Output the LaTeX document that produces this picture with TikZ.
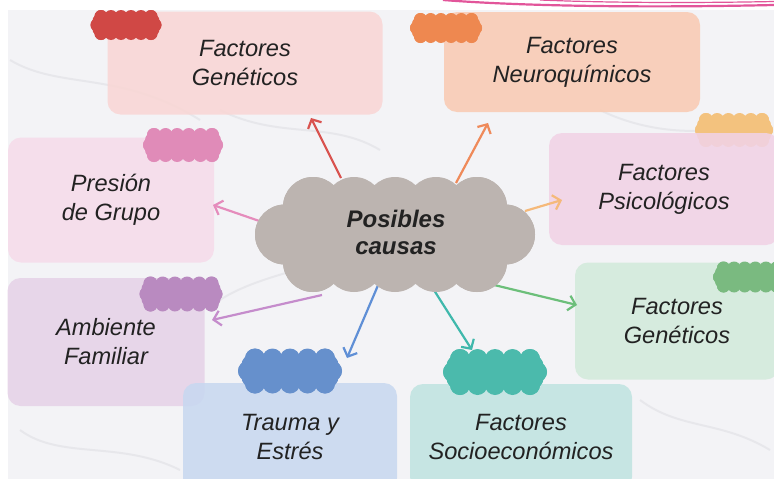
\documentclass[tikz,border=0pt]{standalone}
\usepackage{fontspec}
\setmainfont{Liberation Sans}
\usetikzlibrary{arrows.meta,calc}
\definecolor{bgmarble}{HTML}{F3F3F6}
\definecolor{streak}{HTML}{D9D9DF}
\definecolor{txt}{HTML}{222222}
\definecolor{bxA}{HTML}{F9D6D5}
\definecolor{bxB}{HTML}{F9CBB3}
\definecolor{bxC}{HTML}{F6DCEA}
\definecolor{bxD}{HTML}{F1D3E6}
\definecolor{bxE}{HTML}{E6D2E8}
\definecolor{bxF}{HTML}{D3EADB}
\definecolor{bxG}{HTML}{C8D8F0}
\definecolor{bxH}{HTML}{C0E4E1}
\definecolor{clA}{HTML}{D04845}
\definecolor{clB}{HTML}{EE8850}
\definecolor{clC}{HTML}{E08BB8}
\definecolor{clD}{HTML}{F3C27E}
\definecolor{clE}{HTML}{B98AC0}
\definecolor{clF}{HTML}{7ABA80}
\definecolor{clG}{HTML}{6690CC}
\definecolor{clH}{HTML}{4BBAAC}
\definecolor{arA}{HTML}{D9534F}
\definecolor{arB}{HTML}{EF8A5A}
\definecolor{arC}{HTML}{E58CBC}
\definecolor{arD}{HTML}{F5B97A}
\definecolor{arE}{HTML}{C58CCC}
\definecolor{arF}{HTML}{6CBF7A}
\definecolor{arG}{HTML}{5F8FD6}
\definecolor{arH}{HTML}{3FB8AC}
\definecolor{centre}{HTML}{BCB4B0}
\definecolor{pinkline}{HTML}{E2559A}
% scalloped blob: cx, cy, width, height, bump radius, top inset, top bumps, side steps, colour
\newcommand{\cloudblob}[9]{%
  \pgfmathsetmacro\bxa{#1-#3/2+#5+#6}\pgfmathsetmacro\bxb{#1+#3/2-#5-#6}%
  \pgfmathsetmacro\bxl{#1-#3/2+#5}\pgfmathsetmacro\bxr{#1+#3/2-#5}%
  \pgfmathsetmacro\bya{#2-#4/2+#5}\pgfmathsetmacro\byb{#2+#4/2-#5}%
  \pgfmathtruncatemacro\bnt{#7-1}%
  \fill[#9] (\bxa,\bya) -- (\bxb,\bya) -- (\bxr,#2) -- (\bxb,\byb) -- (\bxa,\byb) -- (\bxl,#2) -- cycle;
  \foreach \i in {0,...,\bnt}{%
    \fill[#9] ({\bxa+\i*(\bxb-\bxa)/\bnt},\bya) circle (#5);
    \fill[#9] ({\bxa+\i*(\bxb-\bxa)/\bnt},\byb) circle (#5);}
  \foreach \k in {0,...,#8}{%
    \fill[#9] ({\bxa+\k/#8*(\bxl-\bxa)},{\bya+\k/#8*(#2-\bya)}) circle (#5);
    \fill[#9] ({\bxa+\k/#8*(\bxl-\bxa)},{\byb+\k/#8*(#2-\byb)}) circle (#5);
    \fill[#9] ({\bxb+\k/#8*(\bxr-\bxb)},{\bya+\k/#8*(#2-\bya)}) circle (#5);
    \fill[#9] ({\bxb+\k/#8*(\bxr-\bxb)},{\byb+\k/#8*(#2-\byb)}) circle (#5);}
}
\begin{document}
\begin{tikzpicture}[x=1pt,y=-1pt,
  infobox/.style={rounded corners=13pt, fill=#1, fill opacity=0.88, text opacity=1,
    text=txt, align=center, inner sep=0pt,
    font=\itshape\fontsize{23.6}{29}\selectfont},
  arr/.style={draw=#1, line width=2.2pt, -{Straight Barb[length=7pt,width=15pt,line width=2.2pt]}},
  streakline/.style={draw=streak, line width=2pt, opacity=0.45}]
\useasboundingbox (0,0) rectangle (774,479);
\clip (0,0) rectangle (774,479);
% background
\fill[white] (0,0) rectangle (774,479);
\fill[bgmarble] (8,10) rectangle (774,479);
\draw[streakline] (10,60) .. controls (60,90) and (120,70) .. (200,120);
\draw[streakline] (220,110) .. controls (280,140) and (330,120) .. (380,150);
\draw[streakline] (600,110) .. controls (640,130) and (700,140) .. (760,120);
\draw[streakline] (20,430) .. controls (60,460) and (120,440) .. (180,470);
\draw[streakline] (640,400) .. controls (680,430) and (720,420) .. (770,450);
\draw[streakline] (220,300) .. controls (250,280) and (300,270) .. (330,260);
% top pink border lines
\draw[pinkline, line width=2.2pt] (443,0) .. controls (520,6) and (640,8) .. (774,5);
\draw[pinkline, line width=1.2pt] (540,0) .. controls (610,3) and (700,3) .. (774,1.5);
% cloud under psychological box
\cloudblob{734}{130}{78}{34}{7}{4}{6}{2}{clD}
% boxes
\node[infobox=bxA, minimum width=275pt, minimum height=103pt] (bA) at (245,63) {Factores\\Genéticos};
\node[infobox=bxB, minimum width=256pt, minimum height=100pt] (bB) at (572,62) {Factores\\Neuroquímicos};
\node[infobox=bxC, minimum width=206pt, minimum height=125pt] (bC) at (111,200) {Presión\\de Grupo};
\node[infobox=bxD, minimum width=230pt, minimum height=112pt] (bD) at (664,189) {Factores\\Psicológicos};
\node[infobox=bxE, minimum width=197pt, minimum height=128pt] (bE) at (106,342) {Ambiente\\Familiar};
\node[infobox=bxF, minimum width=204pt, minimum height=117pt] (bF) at (677,321) {Factores\\Genéticos};
\node[infobox=bxG, minimum width=214pt, minimum height=108pt] (bG) at (290,437) {Trauma y\\Estrés};
\node[infobox=bxH, minimum width=222pt, minimum height=106pt] (bH) at (521,437) {Factores\\Socioeconómicos};
% small clouds
\cloudblob{126}{25}{71}{30}{6.5}{4}{6}{2}{clA}
\cloudblob{446}{28}{72}{30}{6.5}{4}{6}{2}{clB}
\cloudblob{183}{145}{80}{34}{7}{4}{6}{2}{clC}
\cloudblob{181}{294}{83}{35}{7}{4}{6}{2}{clE}
\cloudblob{750}{277}{74}{31}{6.5}{4}{6}{2}{clF}
\cloudblob{290}{371}{104}{45}{10}{7}{5}{2}{clG}
\cloudblob{495}{372}{104}{46}{10}{7}{5}{2}{clH}
% arrow coordinates
\coordinate (sA) at (341,178); \coordinate (tA) at (311,118);
\coordinate (sB) at (456,183); \coordinate (tB) at (488,123);
\coordinate (sC) at (268,224); \coordinate (tC) at (213,205);
\coordinate (sD) at (525,211); \coordinate (tD) at (562,200);
\coordinate (sE) at (322,295); \coordinate (tE) at (212,320);
\coordinate (sF) at (490,284); \coordinate (tF) at (577,305);
\coordinate (sG) at (379,283); \coordinate (tG) at (347,358);
\coordinate (sH) at (432,287); \coordinate (tH) at (472,350);
\draw[arr=arA] (sA) -- (tA);
\draw[arr=arB] (sB) -- (tB);
\draw[arr=arC] (sC) -- (tC);
\draw[arr=arD] (sD) -- (tD);
\draw[arr=arE] (sE) -- (tE);
\draw[arr=arF] (sF) -- (tF);
\draw[arr=arG] (sG) -- (tG);
\draw[arr=arH] (sH) -- (tH);
% central cloud
\cloudblob{395}{234.5}{280}{115}{30}{28}{5}{1}{centre}
\node[align=center, text=txt, inner sep=0pt,
  font=\bfseries\itshape\fontsize{24}{27}\selectfont] (cc) at (396,232) {Posibles\\causas};
\end{tikzpicture}
\end{document}
